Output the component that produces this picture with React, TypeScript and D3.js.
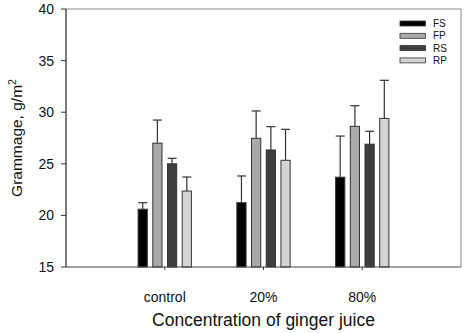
import React from "react";
import * as d3 from "d3";

const categories = ["control", "20%", "80%"];
const seriesNames = ["FS", "FP", "RS", "RP"];
const seriesColors = ["#000000", "#a9a9a9", "#3e3e3e", "#d4d4d4"];
const means = [
  [20.6, 21.23, 23.7],
  [27.0, 27.47, 28.63],
  [25.0, 26.34, 26.9],
  [22.36, 25.34, 29.4],
];
const errors = [
  [0.63, 2.59, 3.99],
  [2.24, 2.65, 2.0],
  [0.53, 2.26, 1.25],
  [1.36, 3.0, 3.69],
];
const yTicks = [15, 20, 25, 30, 35, 40];

export default function App() {
  const W = 468, H = 333;
  const left = 66, right = 461, top = 9, bottom = 267;
  const x = d3.scaleLinear().domain([0, 4]).range([left, right]);
  const y = d3.scaleLinear().domain([15, 40]).range([bottom, top]);
  const step = 14.7, bw = 9.2;
  const font = "Liberation Sans, Arial, sans-serif";

  return (
    <svg width={W} height={H} style={{ position: "absolute", left: 0, top: 0 }} fontFamily={font}>
      <rect x={0} y={0} width={W} height={H} fill="#fff" />
      {/* frame */}
      <line x1={left} x2={right} y1={top} y2={top} stroke="#888" strokeWidth={1} />
      <line x1={right} x2={right} y1={top} y2={bottom} stroke="#888" strokeWidth={1} />
      {/* bars */}
      {seriesNames.map((s, si) =>
        categories.map((c, ci) => {
          const cx = x(ci + 1) + (si - 1.5) * step;
          const v = means[si][ci];
          const e = errors[si][ci];
          return (
            <g key={s + c}>
              <line x1={cx} x2={cx} y1={y(v)} y2={y(v + e)} stroke="#333" strokeWidth={1.2} />
              <line x1={cx - 4.5} x2={cx + 4.5} y1={y(v + e)} y2={y(v + e)} stroke="#333" strokeWidth={1.2} />
              <rect x={cx - bw / 2} y={y(v)} width={bw} height={y(15) - y(v)} fill={seriesColors[si]} stroke="#333" strokeWidth={1} />
            </g>
          );
        })
      )}
      {/* axes */}
      <line x1={left} x2={left} y1={top} y2={bottom} stroke="#222" strokeWidth={1.2} />
      <line x1={left} x2={right} y1={bottom} y2={bottom} stroke="#444" strokeWidth={1.2} />
      {yTicks.map((t) => (
        <g key={t}>
          <line x1={left - 5} x2={left} y1={y(t)} y2={y(t)} stroke="#333" />
          <text x={54} y={y(t)} dy="0.35em" textAnchor="end" fontSize={14} fill="#111">{t}</text>
        </g>
      ))}
      {categories.map((c, ci) => (
        <g key={c}>
          <line x1={x(ci + 1)} x2={x(ci + 1)} y1={bottom} y2={bottom + 3} stroke="#333" />
          <text x={x(ci + 1)} y={297} dy="0.35em" textAnchor="middle" fontSize={14} fill="#111">{c}</text>
        </g>
      ))}
      <text x={x(2)} y={320} dy="0.35em" textAnchor="middle" fontSize={17.5} fill="#111">Concentration of ginger juice</text>
      <text transform={`translate(22,${(top + bottom) / 2}) rotate(-90)`} textAnchor="middle" fontSize={15.5} fill="#111">
        Grammage, g/m<tspan dy={-6} fontSize={10.5}>2</tspan>
      </text>
      {/* legend */}
      {seriesNames.map((s, si) => {
        const ly = 23.5 + si * 12.3;
        return (
          <g key={s}>
            <rect x={400} y={ly - 2.5} width={25.5} height={5} fill={seriesColors[si]} stroke="#333" strokeWidth={0.8} />
            <text x={433} y={ly} dy="0.35em" fontSize={10} fill="#111">{s}</text>
          </g>
        );
      })}
    </svg>
  );
}
